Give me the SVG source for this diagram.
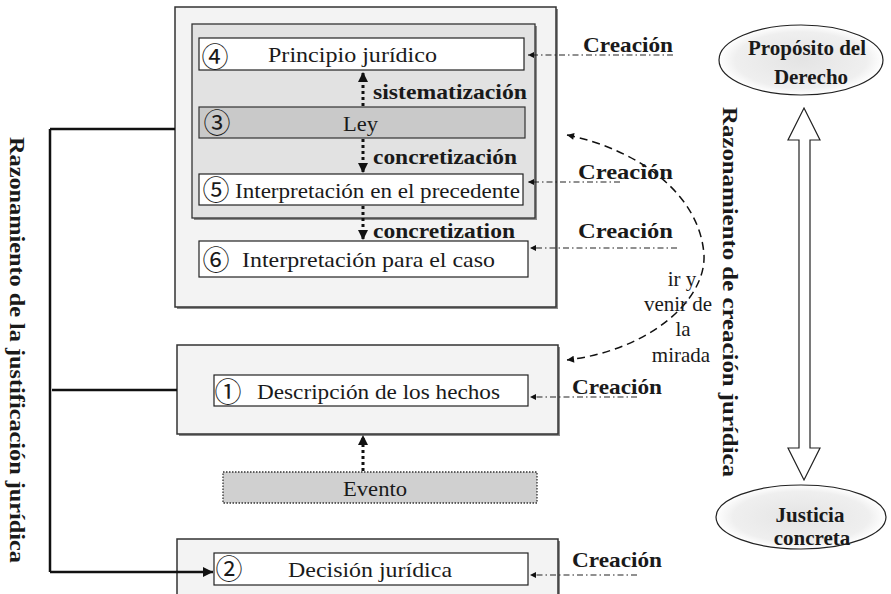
<svg xmlns="http://www.w3.org/2000/svg" width="891" height="594" viewBox="0 0 891 594">
<defs>
<style>
.t{font-family:"Liberation Serif","Times New Roman",serif;font-size:21px;fill:#1a1a1a}
.b{font-family:"Liberation Serif","Times New Roman",serif;font-size:21px;font-weight:bold;fill:#1a1a1a}
.n{font-family:"Noto Sans CJK JP","DejaVu Sans",sans-serif;font-size:27px;fill:#1a1a1a;text-anchor:middle;dominant-baseline:central}
.outer{fill:#f3f3f3;stroke:#333;stroke-width:1.5}
.shadow{fill:#8a8a8a}
.box{fill:#fff;stroke:#222;stroke-width:1.2}
.dot{fill:none;stroke:#111;stroke-width:3;stroke-dasharray:3 3}
.dd{fill:none;stroke:#222;stroke-width:1.2;stroke-dasharray:6 3 1.5 3}
</style>
<marker id="ah" viewBox="0 0 10 10" refX="10" refY="5" markerWidth="11" markerHeight="10" markerUnits="userSpaceOnUse" orient="auto"><path d="M0,0 L10,5 L0,10 z" fill="#111"/></marker>
<marker id="as" viewBox="0 0 10 10" refX="10" refY="5" markerWidth="7" markerHeight="6" markerUnits="userSpaceOnUse" orient="auto"><path d="M0,0 L10,5 L0,10 z" fill="#111"/></marker>
<marker id="ac" viewBox="0 0 10 10" refX="10" refY="5" markerWidth="9" markerHeight="7" markerUnits="userSpaceOnUse" orient="auto-start-reverse"><path d="M0,0 L10,5 L0,10 z" fill="#111"/></marker>
<radialGradient id="eg" cx="0.5" cy="0.5" r="0.5">
<stop offset="0" stop-color="#e4e4e4"/><stop offset="0.8" stop-color="#efefef"/><stop offset="1" stop-color="#ffffff"/>
</radialGradient>
</defs>
<rect width="891" height="594" fill="#fff"/>

<g id="bloque-normativo">
<rect class="shadow" x="177" y="9" width="381" height="300"/>
<rect class="outer" x="175" y="7" width="381" height="300"/>
<rect class="shadow" x="194" y="26" width="343" height="194"/>
<rect x="192" y="24" width="343" height="194" fill="#e2e2e2" stroke="#333" stroke-width="1.3"/>
</g>

<g id="n4">
<rect class="box" x="199" y="38" width="325" height="32"/>
<text class="n" x="215" y="55">④</text>
<text class="t" x="268" y="62" textLength="169" lengthAdjust="spacingAndGlyphs">Principio jurídico</text>
</g>
<g id="n3">
<rect x="199" y="107" width="326" height="31" fill="#c9c9c9" stroke="#333" stroke-width="1.2"/>
<text class="n" x="217" y="121">③</text>
<text class="t" x="343" y="131" textLength="35" lengthAdjust="spacingAndGlyphs">Ley</text>
</g>
<g id="n5">
<rect class="box" x="199" y="174" width="324" height="31"/>
<text class="n" x="216" y="188">⑤</text>
<text class="t" x="235" y="198" textLength="285" lengthAdjust="spacingAndGlyphs">Interpretación en el precedente</text>
</g>
<g id="n6">
<rect class="box" x="199" y="241" width="329" height="36"/>
<text class="n" x="216" y="258">⑥</text>
<text class="t" x="242" y="267" textLength="253" lengthAdjust="spacingAndGlyphs">Interpretación para el caso</text>
</g>

<g id="bloque-hechos">
<rect class="shadow" x="179" y="347" width="381" height="89"/>
<rect class="outer" x="177" y="345" width="381" height="89"/>
</g>
<g id="n1">
<rect class="box" x="214" y="375" width="314" height="31"/>
<text class="n" x="228" y="390">①</text>
<text class="t" x="257" y="399" textLength="243" lengthAdjust="spacingAndGlyphs">Descripción de los hechos</text>
</g>
<g id="evento">
<rect x="223" y="472" width="314" height="31" fill="#d0d0d0" stroke="#333" stroke-width="1.3" stroke-dasharray="1.5 1.5"/>
<text class="t" x="343" y="496" textLength="64" lengthAdjust="spacingAndGlyphs">Evento</text>
</g>

<g id="bloque-decision">
<rect class="shadow" x="179" y="541" width="381" height="70"/>
<rect class="outer" x="177" y="539" width="381" height="70"/>
</g>
<g id="n2">
<rect class="box" x="214" y="553" width="314" height="32"/>
<text class="n" x="229" y="567">②</text>
<text class="t" x="288" y="577" textLength="164" lengthAdjust="spacingAndGlyphs">Decisión jurídica</text>
</g>

<g id="proposito">
<ellipse cx="801" cy="60" rx="82" ry="35" fill="url(#eg)" stroke="#222" stroke-width="1.2"/>
<text class="b" x="807" y="55" text-anchor="middle">Propósito del</text>
<text class="b" x="811" y="84" text-anchor="middle">Derecho</text>
</g>
<g id="justicia">
<ellipse cx="801" cy="517" rx="85" ry="32" fill="url(#eg)" stroke="#222" stroke-width="1.2"/>
<text class="b" x="810" y="522" text-anchor="middle">Justicia</text>
<text class="b" x="812" y="545" text-anchor="middle">concreta</text>
</g>

<g id="connectors">
<path d="M50,129 H175 M52,390 H177 M50,129 V572" fill="none" stroke="#111" stroke-width="2.5"/>
<path d="M50,572 H213" fill="none" stroke="#111" stroke-width="2.5" marker-end="url(#ah)"/>
<path class="dot" d="M363,106 V72" marker-end="url(#ah)"/>
<path class="dot" d="M363,139 V173" marker-end="url(#ah)"/>
<path class="dot" d="M363,206 V240" marker-end="url(#ah)"/>
<path class="dot" d="M363,471 V435" marker-end="url(#ah)"/>
<path class="dd" d="M673,55 H528" marker-end="url(#as)"/>
<path class="dd" d="M620,182 H528" marker-end="url(#as)"/>
<path class="dd" d="M677,248 H530" marker-end="url(#as)"/>
<path class="dd" d="M637,397 H530" marker-end="url(#as)"/>
<path class="dd" d="M637,575 H530" marker-end="url(#as)"/>
<path d="M567,135 C640,150 700,195 704,255 C706,300 650,350 567,360" fill="none" stroke="#111" stroke-width="1.5" stroke-dasharray="8 5" marker-start="url(#ac)" marker-end="url(#ac)"/>
<polygon points="804,108 820,140 810,140 810,448 820,448 804,480 788,448 799,448 799,140 788,140" fill="#fff" stroke="#222" stroke-width="1.2"/>
</g>

<g id="labels">
<text class="b" x="373" y="99" textLength="154" lengthAdjust="spacingAndGlyphs">sistematización</text>
<text class="b" x="373" y="164" textLength="144" lengthAdjust="spacingAndGlyphs">concretización</text>
<text class="b" x="373" y="238" textLength="142" lengthAdjust="spacingAndGlyphs">concretization</text>
<text class="b" x="583" y="52" textLength="90" lengthAdjust="spacingAndGlyphs">Creación</text>
<text class="b" x="578" y="179" textLength="95" lengthAdjust="spacingAndGlyphs">Creación</text>
<text class="b" x="578" y="238" textLength="95" lengthAdjust="spacingAndGlyphs">Creación</text>
<text class="b" x="572" y="394" textLength="90" lengthAdjust="spacingAndGlyphs">Creación</text>
<text class="b" x="572" y="567" textLength="90" lengthAdjust="spacingAndGlyphs">Creación</text>
<text class="t" x="682" y="286" text-anchor="middle" font-size="20">ir y</text>
<text class="t" x="678" y="311" text-anchor="middle" font-size="20">venir de</text>
<text class="t" x="683" y="336" text-anchor="middle" font-size="20">la</text>
<text class="t" x="681" y="362" text-anchor="middle" font-size="20">mirada</text>
<text class="b" transform="translate(10,350) rotate(90)" text-anchor="middle" textLength="426" lengthAdjust="spacingAndGlyphs">Razonamiento  de la justificación jurídica</text>
<text class="b" transform="translate(723,292) rotate(90)" text-anchor="middle" textLength="370" lengthAdjust="spacingAndGlyphs">Razonamiento  de creación jurídica</text>
</g>
</svg>
